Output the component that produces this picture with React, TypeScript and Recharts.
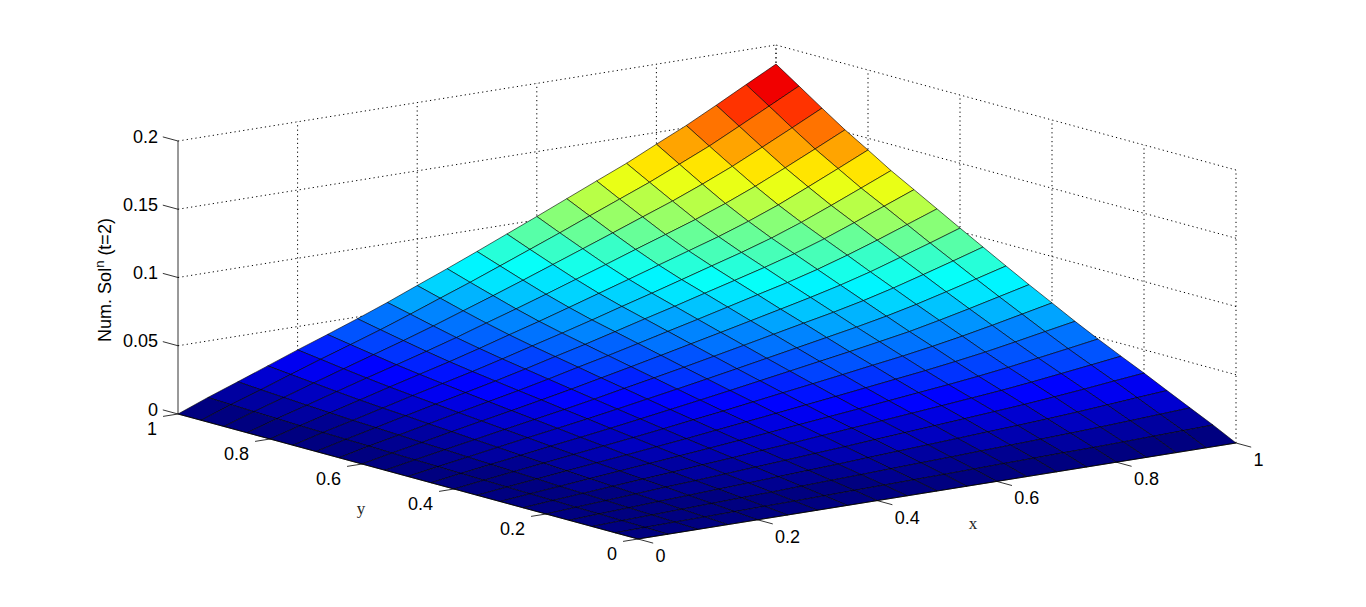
import { ScatterChart, Scatter, XAxis, YAxis } from "recharts";

const WIDTH = 1366;
const HEIGHT = 607;

const xTicks = [0, 0.2, 0.4, 0.6, 0.8, 1];
const yTicks = [0, 0.2, 0.4, 0.6, 0.8, 1];
const zTicks = [0, 0.05, 0.1, 0.15, 0.2];
const zMax = 0.186;

const gridSteps = [0, 0.05, 0.1, 0.15, 0.2, 0.25, 0.3, 0.35, 0.4, 0.45, 0.5, 0.55, 0.6, 0.65, 0.7, 0.75, 0.8, 0.85, 0.9, 0.95, 1];

// heights, one row per x step
const zRows = [
  [0, 0, 0, 0, 0, 0, 0, 0, 0, 0, 0, 0, 0, 0, 0, 0, 0, 0, 0, 0, 0],
  [0, .0004, .0008, .0011, .0014, .0018, .0021, .0025, .0029, .0033, .0037, .0041, .0045, .0050, .0054, .0058, .0062, .0068, .0074, .0079, .0086],
  [0, .0008, .0014, .0021, .0028, .0035, .0041, .0049, .0057, .0064, .0072, .0080, .0087, .0096, .0104, .0112, .0121, .0131, .0142, .0153, .0166],
  [0, .0011, .0021, .0032, .0042, .0052, .0062, .0073, .0084, .0095, .0108, .0119, .0131, .0143, .0156, .0167, .0180, .0196, .0213, .0230, .0247],
  [0, .0014, .0028, .0042, .0056, .0069, .0083, .0097, .0112, .0127, .0143, .0158, .0174, .0190, .0206, .0223, .0240, .0260, .0282, .0306, .0329],
  [0, .0018, .0035, .0052, .0069, .0085, .0103, .0120, .0139, .0157, .0177, .0196, .0215, .0235, .0255, .0276, .0298, .0322, .0350, .0378, .0407],
  [0, .0021, .0041, .0062, .0083, .0103, .0123, .0144, .0166, .0188, .0211, .0234, .0258, .0281, .0305, .0329, .0355, .0385, .0418, .0452, .0487],
  [0, .0025, .0049, .0073, .0097, .0120, .0144, .0168, .0195, .0221, .0248, .0275, .0302, .0330, .0358, .0386, .0417, .0451, .0490, .0531, .0571],
  [0, .0029, .0057, .0084, .0112, .0139, .0166, .0195, .0225, .0255, .0286, .0318, .0349, .0382, .0414, .0446, .0482, .0522, .0566, .0613, .0660],
  [0, .0033, .0064, .0095, .0127, .0157, .0188, .0221, .0254, .0289, .0324, .0360, .0396, .0432, .0468, .0505, .0545, .0591, .0642, .0694, .0748],
  [0, .0037, .0072, .0107, .0142, .0177, .0211, .0248, .0286, .0324, .0363, .0403, .0444, .0485, .0526, .0566, .0612, .0663, .0720, .0779, .0839],
  [0, .0041, .0080, .0119, .0158, .0196, .0234, .0275, .0318, .0360, .0403, .0448, .0493, .0539, .0585, .0630, .0680, .0737, .0800, .0865, .0932],
  [0, .0045, .0087, .0131, .0174, .0215, .0257, .0302, .0349, .0396, .0444, .0493, .0542, .0592, .0642, .0692, .0748, .0810, .0880, .0951, .1025],
  [0, .0050, .0096, .0143, .0190, .0235, .0281, .0330, .0381, .0432, .0485, .0539, .0592, .0647, .0702, .0756, .0817, .0886, .0961, .1040, .1120],
  [0, .0054, .0104, .0155, .0206, .0255, .0305, .0358, .0414, .0468, .0526, .0585, .0642, .0702, .0761, .0821, .0886, .0960, .1043, .1128, .1215],
  [0, .0059, .0112, .0167, .0223, .0276, .0329, .0386, .0446, .0506, .0567, .0630, .0693, .0756, .0821, .0885, .0955, .1035, .1124, .1216, .1309],
  [0, .0062, .0121, .0180, .0240, .0297, .0355, .0417, .0482, .0545, .0612, .0680, .0748, .0817, .0886, .0955, .1032, .1117, .1213, .1313, .1414],
  [0, .0068, .0131, .0195, .0260, .0322, .0385, .0451, .0522, .0592, .0663, .0737, .0810, .0886, .0960, .1035, .1117, .1208, .1308, .1411, .1516],
  [0, .0074, .0142, .0212, .0282, .0350, .0418, .0490, .0566, .0642, .0720, .0800, .0880, .0961, .1043, .1124, .1214, .1308, .1413, .1521, .1629],
  [0, .0080, .0154, .0230, .0306, .0378, .0452, .0531, .0613, .0695, .0779, .0865, .0951, .1040, .1129, .1216, .1313, .1411, .1520, .1633, .1745],
  [0, .0086, .0166, .0247, .0329, .0407, .0487, .0571, .0660, .0748, .0839, .0932, .1025, .1120, .1215, .1309, .1414, .1516, .1629, .1745, .1860],
];

// camera: where the data cube lands on the hidden view axes
const project = (x: number, y: number, z: number) => ({
  vx: 638 + 598 * x - 460 * y,
  vy: 539 - 96 * x - 125 * y - 1365 * z,
});

const jet = (t: number) => {
  const v = Math.floor(Math.min(t, 0.999) * 64) / 63;
  const ramp = (c: number) => Math.round(255 * Math.max(0, Math.min(1, 1.5 - Math.abs(4 * v - c))));
  return `rgb(${ramp(3)},${ramp(2)},${ramp(1)})`;
};

const vertices = gridSteps.flatMap((x, i) => gridSteps.map((y, j) => project(x, y, zRows[i][j])));

const n = gridSteps.length;

// painted from the back corner to the front one, coloured by the lower corner like surf
const renderSurface = (props: any) => {
  const pts = props.points;
  const faces = [];
  for (let i = n - 2; i >= 0; i--) {
    for (let j = n - 2; j >= 0; j--) {
      const a = pts[i * n + j];
      const b = pts[(i + 1) * n + j];
      const c = pts[(i + 1) * n + j + 1];
      const d = pts[i * n + j + 1];
      faces.push(
        <polygon
          key={`${i}-${j}`}
          points={`${a.x},${a.y} ${b.x},${b.y} ${c.x},${c.y} ${d.x},${d.y}`}
          fill={jet(zRows[i][j] / zMax)}
          stroke="#000"
          strokeWidth={0.6}
        />
      );
    }
  }
  return <g>{faces}</g>;
};

const noDot = () => null;

const dottedLines = [
  ...xTicks.slice(1).map((x) => [project(x, 1, 0), project(x, 1, 0.2)]),
  ...yTicks.map((y) => [project(1, y, 0), project(1, y, 0.2)]),
  ...zTicks.slice(1).map((z) => [project(0, 1, z), project(1, 1, z)]),
  ...zTicks.slice(1).map((z) => [project(1, 0, z), project(1, 1, z)]),
];

const solidLines = [
  [project(0, 1, 0), project(0, 1, 0.2)],
  [project(0, 0, 0), project(1, 0, 0)],
  [project(0, 0, 0), project(0, 1, 0)],
  ...xTicks.map((x) => [project(x, 0, 0), project(x, -0.033, 0)]),
  ...yTicks.map((y) => [project(0, y, 0), project(-0.025, y, 0)]),
  ...zTicks.map((z) => [project(0, 1, z), project(0, 1.033, z)]),
];

const xLabels = xTicks.map((x) => ({ ...project(x, 0, 0), label: String(x) }));
const yLabels = yTicks.map((y) => ({ ...project(0, y, 0), label: String(y) }));
const zLabels = zTicks.map((z) => ({ ...project(0, 1, z), label: String(z) }));

const tickText = (dx: number, dy: number, anchor: string) => (props: any) => (
  <text
    x={props.cx + dx}
    y={props.cy + dy}
    textAnchor={anchor}
    fontFamily="'Liberation Sans', Arial, sans-serif"
    fontSize={18}
    fill="#000"
  >
    {props.payload.label}
  </text>
);

const serifTitle = (label: string) => (props: any) => (
  <text x={props.cx} y={props.cy} textAnchor="middle" fontFamily="'Liberation Serif', serif" fontSize={17} fill="#222">
    {label}
  </text>
);

const zTitle = (props: any) => (
  <text
    transform={`translate(${props.cx},${props.cy}) rotate(-90)`}
    textAnchor="middle"
    fontFamily="'Liberation Sans', Arial, sans-serif"
    fontSize={18}
    fill="#000"
  >
    Num. Sol
    <tspan dy={-7} fontSize={13}>n</tspan>
    <tspan dy={7}> (t=2)</tspan>
  </text>
);

export default function App() {
  return (
    <div style={{ position: "absolute", left: 0, top: 0, width: WIDTH, height: HEIGHT, background: "#fff" }}>
      <ScatterChart width={WIDTH} height={HEIGHT} margin={{ top: 0, right: 0, bottom: 0, left: 0 }}>
        <XAxis type="number" dataKey="vx" domain={[0, WIDTH]} hide allowDataOverflow />
        <YAxis type="number" dataKey="vy" domain={[0, HEIGHT]} reversed hide allowDataOverflow />
        {dottedLines.map((seg, i) => (
          <Scatter
            key={`dot-${i}`}
            data={seg}
            line={{ stroke: "#000", strokeWidth: 1, strokeDasharray: "1.2 3.2" }}
            shape={noDot}
            isAnimationActive={false}
          />
        ))}
        <Scatter data={vertices} line={renderSurface} shape={noDot} isAnimationActive={false} />
        {solidLines.map((seg, i) => (
          <Scatter
            key={`solid-${i}`}
            data={seg}
            line={{ stroke: "#000", strokeWidth: 0.8 }}
            shape={noDot}
            isAnimationActive={false}
          />
        ))}
        <Scatter data={xLabels} shape={tickText(17.5, 23, "start")} isAnimationActive={false} />
        <Scatter data={yLabels} shape={tickText(-21, 20.5, "end")} isAnimationActive={false} />
        <Scatter data={zLabels} shape={tickText(-20, 1.5, "end")} isAnimationActive={false} />
        <Scatter data={[{ vx: 973, vy: 529 }]} shape={serifTitle("x")} isAnimationActive={false} />
        <Scatter data={[{ vx: 361, vy: 514 }]} shape={serifTitle("y")} isAnimationActive={false} />
        <Scatter data={[{ vx: 111, vy: 280 }]} shape={zTitle} isAnimationActive={false} />
      </ScatterChart>
    </div>
  );
}
